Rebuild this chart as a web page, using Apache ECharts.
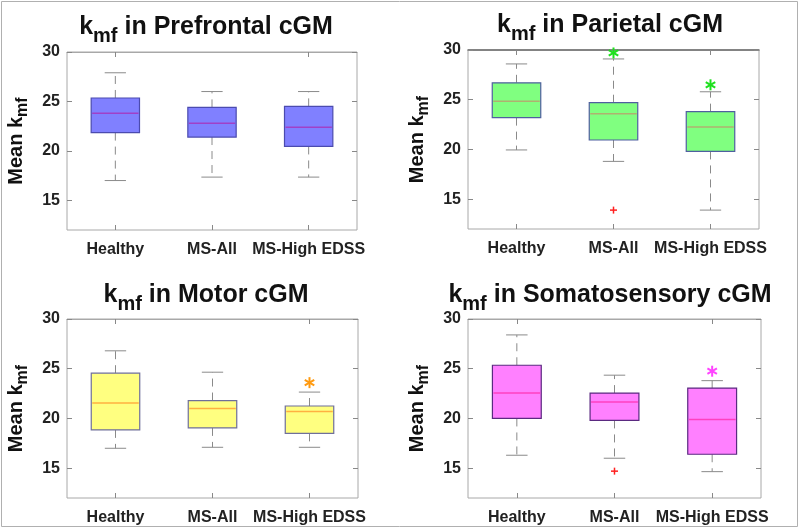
<!DOCTYPE html>
<html><head><meta charset="utf-8">
<script src="https://cdn.jsdelivr.net/npm/echarts@6/dist/echarts.min.js"></script>
<style>html,body{margin:0;padding:0;background:#fff}#c{width:800px;height:529px}</style>
</head><body><div id="c"></div>
<script>
const categories = ['Healthy', 'MS-All', 'MS-High EDSS'];
const regionNames = ['Prefrontal', 'Parietal', 'Motor', 'Somatosensory'];
const yTicks = [15, 20, 25, 30];
// each box: [lower whisker, Q1, median, Q3, upper whisker]
const prefrontalStats = [[17.0, 21.85, 23.8, 25.35, 27.9], [17.35, 21.4, 22.8, 24.4, 26.0], [17.35, 20.45, 22.4, 24.5, 26.0]];
const parietalStats = [[19.95, 23.2, 24.85, 26.7, 28.6], [18.8, 20.95, 23.6, 24.7, 29.1], [13.9, 19.8, 22.25, 23.8, 25.8]];
const motorStats = [[17.0, 18.85, 21.55, 24.55, 26.8], [17.1, 19.05, 21.0, 21.8, 24.65], [17.1, 18.5, 20.7, 21.25, 22.65]];
const somatosensoryStats = [[16.3, 20.0, 22.55, 25.35, 28.4], [16.0, 19.8, 21.65, 22.55, 24.35], [14.65, 16.4, 19.9, 23.05, 23.8]];
// outliers '+' : [category index, value]
const parietalOutliers = [[1, 13.9]];
const somatosensoryOutliers = [[1, 14.7]];
// significance stars: [category index, value]
const parietalStars = [[1, 29.7], [2, 26.5]];
const motorStars = [[2, 23.6]];
const somatosensoryStars = [[2, 24.75]];

const FONT = 'Liberation Sans, Arial, Helvetica, sans-serif';
const panels = [
  { stats: prefrontalStats, outliers: [], stars: [], fill: '#8080ff', edge: '#4b4baf', median: '#a040c8', star: '#22dd22',
    grid: { left: 64, top: 52, width: 293, height: 178 }, titleX: 206, titleTop: 12, topBorder: '#a8a8a8' },
  { stats: parietalStats, outliers: parietalOutliers, stars: parietalStars, fill: '#80ff80', edge: '#4f5f9f', median: '#b0b070', star: '#1ee01e',
    grid: { left: 468, top: 50, width: 291, height: 179 }, titleX: 610, titleTop: 10, topBorder: '#6a6a6a' },
  { stats: motorStats, outliers: [], stars: motorStars, fill: '#ffff80', edge: '#6f6f9a', median: '#ffb040', star: '#ff9a10',
    grid: { left: 62, top: 319, width: 296, height: 179 }, titleX: 206, titleTop: 280, topBorder: '#a8a8a8' },
  { stats: somatosensoryStats, outliers: somatosensoryOutliers, stars: somatosensoryStars, fill: '#ff80ff', edge: '#5a2a80', median: '#ff40c0', star: '#ff44ff',
    grid: { left: 468, top: 319, width: 293, height: 179 }, titleX: 610, titleTop: 280, topBorder: '#a8a8a8' }
];

const grids = [], xAxes = [], yAxes = [], series = [], titles = [];
const axisGray = '#a8a8a8';

panels.forEach((p, i) => {
  grids.push(Object.assign({ show: true, borderColor: axisGray, borderWidth: 1, backgroundColor: '#fff' }, p.grid));
  titles.push({
    text: '{a|k}{b|mf}{a| in ' + regionNames[i] + ' cGM}',
    left: p.titleX, top: p.titleTop, textAlign: 'center', padding: 0,
    textStyle: {
      rich: {
        a: { fontFamily: FONT, fontWeight: 'bold', fontSize: 25, color: '#111', lineHeight: 30 },
        b: { fontFamily: FONT, fontWeight: 'bold', fontSize: 20, color: '#111', lineHeight: 30, padding: [19, 0, 0, 0] }
      }
    }
  });
  // bottom x axis
  xAxes.push({
    type: 'category', gridIndex: i, data: categories, position: 'bottom', boundaryGap: true,
    axisLine: { show: false },
    axisTick: { show: true, inside: true, alignWithLabel: true, length: 5, lineStyle: { color: '#888' } },
    axisLabel: { fontFamily: FONT, fontWeight: 'bold', fontSize: 16, color: '#222', margin: 12, interval: 0 },
    splitLine: { show: false }
  });
  // top x axis (ticks only)
  xAxes.push({
    type: 'category', gridIndex: i, data: categories, position: 'top', boundaryGap: true,
    axisLine: { show: true, lineStyle: { color: p.topBorder, width: p.topBorder === axisGray ? 1 : 1.5 } },
    axisTick: { show: true, inside: true, alignWithLabel: true, length: 5, lineStyle: { color: '#888' } },
    axisLabel: { show: false }, splitLine: { show: false }
  });
  yAxes.push({
    type: 'value', gridIndex: i, min: 12, max: 30, position: 'left',
    name: '{a|Mean k}{b|mf}', nameLocation: 'middle', nameGap: 38, nameRotate: 90,
    nameTextStyle: {
      rich: {
        a: { fontFamily: FONT, fontWeight: 'bold', fontSize: 20, color: '#111', lineHeight: 26 },
        b: { fontFamily: FONT, fontWeight: 'bold', fontSize: 16, color: '#111', lineHeight: 26, padding: [14, 0, 0, 0] }
      }
    },
    axisLine: { show: false },
    axisTick: { show: true, inside: true, length: 5, lineStyle: { color: '#888' }, customValues: yTicks },
    axisLabel: { fontFamily: FONT, fontWeight: 'bold', fontSize: 16, color: '#222', margin: 7, customValues: yTicks },
    splitLine: { show: false }
  });
  yAxes.push({
    type: 'value', gridIndex: i, min: 12, max: 30, position: 'right',
    axisLine: { show: false },
    axisTick: { show: true, inside: true, length: 5, lineStyle: { color: '#888' }, customValues: yTicks },
    axisLabel: { show: false }, splitLine: { show: false }
  });

  const boxData = p.stats.map((s, k) => [k].concat(s));
  series.push({
    type: 'custom', xAxisIndex: 2 * i, yAxisIndex: 2 * i,
    data: boxData,
    encode: { x: 0, y: [1, 2, 3, 4, 5] },
    z: 3,
    renderItem: (function (panel) {
      return function (params, api) {
        const c = api.value(0);
        const band = api.size([1, 0])[0];
        const bw = band * 0.5, cw = band * 0.22;
        const pMin = api.coord([c, api.value(1)]);
        const pQ1 = api.coord([c, api.value(2)]);
        const pMed = api.coord([c, api.value(3)]);
        const pQ3 = api.coord([c, api.value(4)]);
        const pMax = api.coord([c, api.value(5)]);
        const x = pMin[0];
        const dash = { stroke: '#8a8a8a', lineWidth: 1, lineDash: [8, 6] };
        const solid = { stroke: '#8a8a8a', lineWidth: 1 };
        return {
          type: 'group',
          children: [
            { type: 'line', shape: { x1: x, y1: pQ3[1], x2: x, y2: pMax[1] }, style: dash },
            { type: 'line', shape: { x1: x, y1: pQ1[1], x2: x, y2: pMin[1] }, style: dash },
            { type: 'line', shape: { x1: x - cw / 2, y1: pMax[1], x2: x + cw / 2, y2: pMax[1] }, style: solid },
            { type: 'line', shape: { x1: x - cw / 2, y1: pMin[1], x2: x + cw / 2, y2: pMin[1] }, style: solid },
            { type: 'rect', shape: { x: x - bw / 2, y: pQ3[1], width: bw, height: pQ1[1] - pQ3[1] },
              style: { fill: panel.fill, stroke: panel.edge, lineWidth: 1.2 } },
            { type: 'line', shape: { x1: x - bw / 2 + 1, y1: pMed[1], x2: x + bw / 2 - 1, y2: pMed[1] },
              style: { stroke: panel.median, lineWidth: 1.5 } }
          ]
        };
      };
    })(p)
  });

  if (p.outliers.length) {
    series.push({
      type: 'custom', xAxisIndex: 2 * i, yAxisIndex: 2 * i, data: p.outliers,
      encode: { x: 0, y: 1 }, z: 4,
      renderItem: function (params, api) {
        const pt = api.coord([api.value(0), api.value(1)]);
        const r = 3.5;
        const st = { stroke: '#ff2020', lineWidth: 1.5 };
        return { type: 'group', children: [
          { type: 'line', shape: { x1: pt[0] - r, y1: pt[1], x2: pt[0] + r, y2: pt[1] }, style: st },
          { type: 'line', shape: { x1: pt[0], y1: pt[1] - r, x2: pt[0], y2: pt[1] + r }, style: st }
        ] };
      }
    });
  }
  if (p.stars.length) {
    series.push({
      type: 'custom', xAxisIndex: 2 * i, yAxisIndex: 2 * i, data: p.stars,
      encode: { x: 0, y: 1 }, z: 5,
      renderItem: (function (color) {
        return function (params, api) {
          const pt = api.coord([api.value(0), api.value(1)]);
          const r = 5.5;
          const st = { stroke: color, lineWidth: 2 };
          const ch = [];
          [90, 30, 150].forEach(function (deg) {
            const a = deg * Math.PI / 180;
            ch.push({ type: 'line', shape: { x1: pt[0] - r * Math.cos(a), y1: pt[1] - r * Math.sin(a), x2: pt[0] + r * Math.cos(a), y2: pt[1] + r * Math.sin(a) }, style: st });
          });
          return { type: 'group', children: ch };
        };
      })(p.star)
    });
  }
});

const chart = echarts.init(document.getElementById('c'), null, { renderer: 'canvas' });
chart.setOption({
  animation: false,
  backgroundColor: '#fff',
  title: titles,
  grid: grids,
  xAxis: xAxes,
  yAxis: yAxes,
  series: series,
  graphic: [{ type: 'rect', shape: { x: 1.5, y: 1.5, width: 796, height: 525 }, style: { fill: 'none', stroke: '#b0b0b0', lineWidth: 1 }, silent: true, z: -1 }]
});
</script>
</body></html>
